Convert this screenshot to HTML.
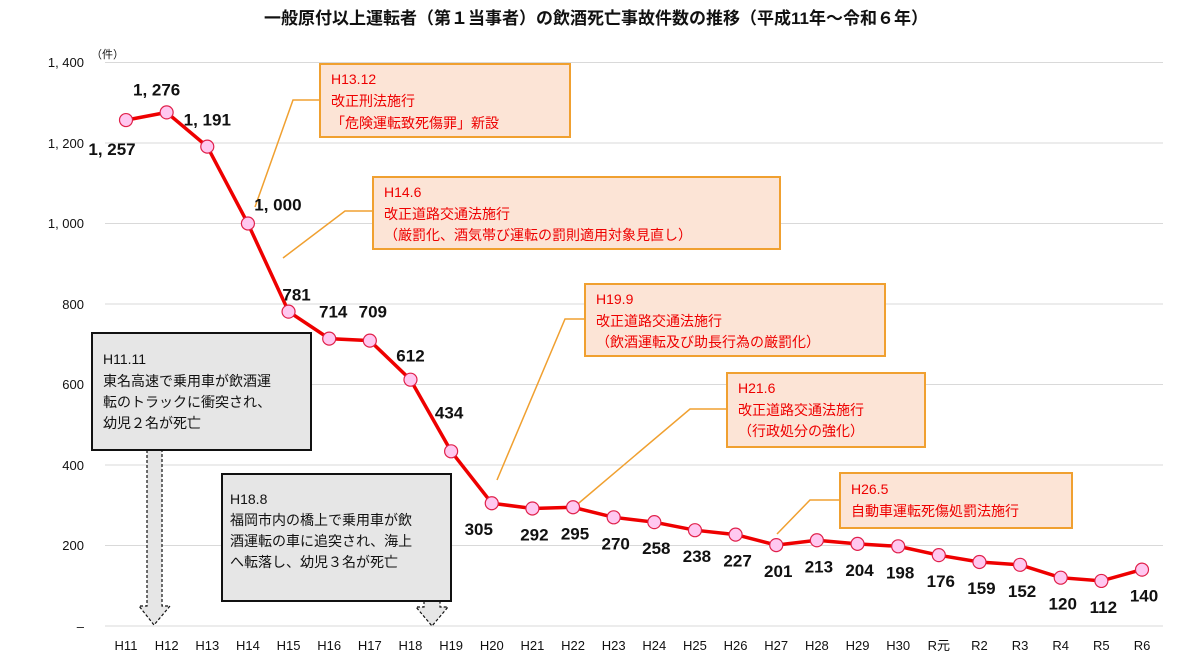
<!DOCTYPE html>
<html><head><meta charset="utf-8"><style>
body{margin:0;background:#fff;width:1192px;height:664px;overflow:hidden}
svg{display:block;font-family:"Liberation Sans","Noto Sans CJK JP",sans-serif}
.v{font-size:17px;font-weight:bold;fill:#111}
.ax{font-size:13px;fill:#111}
.r{fill:#e00;font-size:14px}
.k{fill:#111;font-size:14px}
</style></head><body>
<svg id="s" width="1192" height="664" xmlns="http://www.w3.org/2000/svg">
<text x="596" y="24" text-anchor="middle" font-size="17" font-weight="bold" fill="#111">一般原付以上運転者（第１当事者）の飲酒死亡事故件数の推移（平成11年～令和６年）</text>
<g stroke="#d9d9d9" stroke-width="1">
<line x1="105" x2="1163" y1="62.5" y2="62.5"/><line x1="105" x2="1163" y1="143" y2="143"/>
<line x1="105" x2="1163" y1="223.5" y2="223.5"/><line x1="105" x2="1163" y1="304" y2="304"/>
<line x1="105" x2="1163" y1="384.5" y2="384.5"/><line x1="105" x2="1163" y1="465" y2="465"/>
<line x1="105" x2="1163" y1="545.5" y2="545.5"/><line x1="105" x2="1163" y1="626" y2="626"/>
</g>
<g class="ax" text-anchor="end">
<text x="84" y="67">1, 400</text><text x="84" y="148">1, 200</text><text x="84" y="228">1, 000</text>
<text x="84" y="309">800</text><text x="84" y="389">600</text><text x="84" y="470">400</text>
<text x="84" y="550">200</text><text x="84" y="631">–</text>
</g>
<text x="91" y="58" font-size="11" fill="#111">（件）</text>
<g stroke="#f0a030" stroke-width="1.5" fill="none">
<polyline points="255,207 293,100 320,100"/>
<polyline points="283,258 345,211 373,211"/>
<polyline points="497,480 565,319 585,319"/>
<polyline points="573,508 690,409 727,409"/>
<polyline points="777,534 810,500 840,500"/>
</g>
<g fill="#fce4d6" stroke="#f0a030" stroke-width="2">
<rect x="320" y="64" width="250" height="73"/>
<rect x="373" y="177" width="407" height="72"/>
<rect x="585" y="284" width="300" height="72"/>
<rect x="727" y="373" width="198" height="74"/>
<rect x="840" y="473" width="232" height="55"/>
</g>
<g class="r">
<text x="331" y="84">H13.12</text><text x="331" y="106">改正刑法施行</text><text x="331" y="128">「危険運転致死傷罪」新設</text>
<text x="384" y="197">H14.6</text><text x="384" y="219">改正道路交通法施行</text><text x="384" y="240">（厳罰化、酒気帯び運転の罰則適用対象見直し）</text>
<text x="596" y="304">H19.9</text><text x="596" y="326">改正道路交通法施行</text><text x="596" y="347">（飲酒運転及び助長行為の厳罰化）</text>
<text x="738" y="393">H21.6</text><text x="738" y="415">改正道路交通法施行</text><text x="738" y="436">（行政処分の強化）</text>
<text x="851" y="494">H26.5</text><text x="851" y="516">自動車運転死傷処罰法施行</text>
</g>
<g fill="#e6e6e6" stroke="#111" stroke-width="1.2" stroke-dasharray="3,2">
<path d="M147,450 L147,606 L139,606 L154,625 L170,606 L162,606 L162,450 Z"/>
<path d="M424,601 L424,607 L416,607 L432,626 L448,607 L440,607 L440,601 Z"/>
</g>
<rect x="92" y="333" width="219" height="117" fill="#e6e6e6" stroke="#111" stroke-width="2"/>
<rect x="222" y="474" width="229" height="127" fill="#e6e6e6" stroke="#111" stroke-width="2"/>
<g class="k">
<text x="103" y="364">H11.11</text><text x="103" y="386">東名高速で乗用車が飲酒運</text><text x="103" y="407">転のトラックに衝突され、</text><text x="103" y="428">幼児２名が死亡</text>
<text x="230" y="504">H18.8</text><text x="230" y="525">福岡市内の橋上で乗用車が飲</text><text x="230" y="546">酒運転の車に追突され、海上</text><text x="230" y="567">へ転落し、幼児３名が死亡</text>
</g>
<g id="data"></g>
</svg>
<script>
var v=[1257,1276,1191,1000,781,714,709,612,434,305,292,295,270,258,238,227,201,213,204,198,176,159,152,120,112,140];
var lab=["H11","H12","H13","H14","H15","H16","H17","H18","H19","H20","H21","H22","H23","H24","H25","H26","H27","H28","H29","H30","R元","R2","R3","R4","R5","R6"];
var off={0:[-14,35],1:[-10,-17],2:[0,-21],3:[30,-13],4:[8,-11],5:[4,-21],6:[3,-23],7:[0,-18],8:[-2,-33],9:[-13,32]};
var g=document.getElementById('data'),h='',pts=[];
function X(i){return 126+i*40.64}function Y(a){return 626-a*0.4025}
for(var i=0;i<v.length;i++)pts.push(X(i).toFixed(1)+','+Y(v[i]).toFixed(1));
h+='<polyline points="'+pts.join(' ')+'" fill="none" stroke="#e00" stroke-width="3.5"/>';
for(i=0;i<v.length;i++){var x=X(i),y=Y(v[i]);
h+='<circle cx="'+x+'" cy="'+y+'" r="6.5" fill="#ffc8f0" stroke="#e0204a" stroke-width="1.2"/>';
var o=off[i]||[2,32];var t=v[i]>=1000?(v[i]+'').replace(/(\d)(\d{3})$/,'$1, $2'):v[i];
h+='<text class="v" text-anchor="middle" x="'+(x+o[0])+'" y="'+(y+o[1])+'">'+t+'</text>';
h+='<text class="ax" text-anchor="middle" x="'+x+'" y="650">'+lab[i]+'</text>';}
g.innerHTML=h;
</script>
</body></html>
